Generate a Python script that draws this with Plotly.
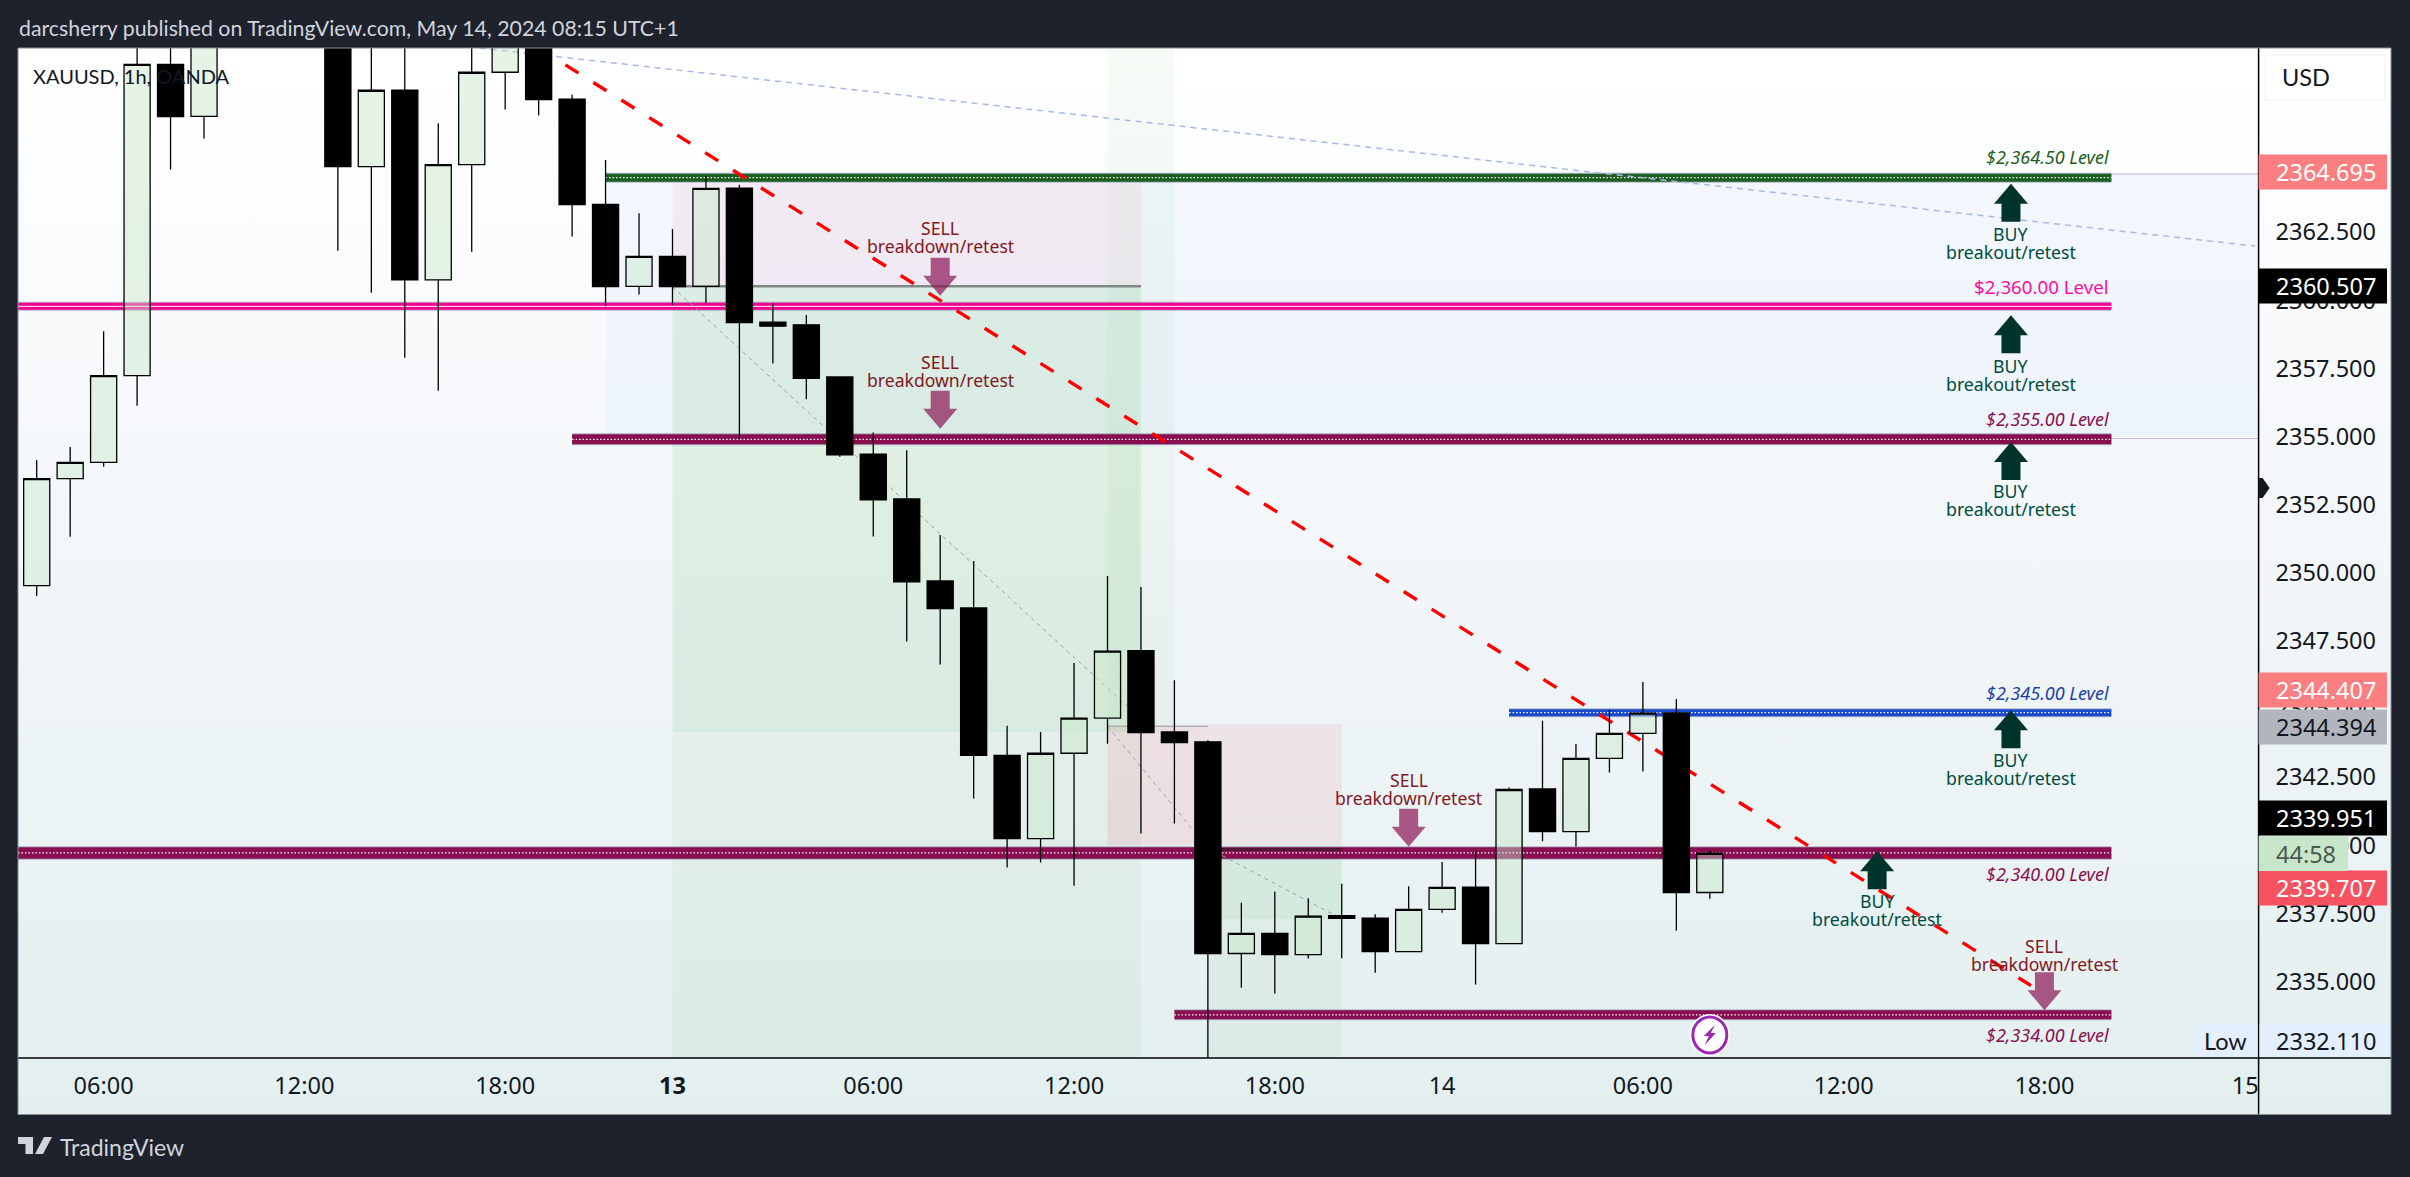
#!/usr/bin/env python3
"""XAUUSD 1h chart with breakout / breakdown levels, TradingView look."""

import plotly.graph_objects as go

W, H = 2410, 1177
FONT = "Noto Sans"
NARROW = "Lato"
BG = "#1e222d"

# bar index 0 is the 04:00 candle of May 12, the last one is 08:00 on May 14
opens = [2349.53, 2353.46, 2354.05, 2357.24, 2368.66, 2366.75, 2370.0, 2373.0, 2376.0, 2372.0,
         2364.91, 2367.71, 2360.75, 2364.98, 2368.37, 2371.0, 2367.38, 2363.52, 2360.51, 2361.61,
         2360.51, 2364.12, 2359.2, 2359.1, 2357.19, 2354.36, 2352.71, 2349.7, 2348.71, 2343.3,
         2340.25, 2343.38, 2344.67, 2347.14, 2344.16, 2343.8, 2336.03, 2336.77, 2335.99, 2337.42,
         2337.33, 2336.1, 2337.65, 2338.47, 2336.39, 2342.07, 2340.5, 2343.19, 2344.11, 2344.86,
         2338.27]
highs = [2354.14, 2354.62, 2358.87, 2370.0, 2370.0, 2371.0, 2374.0, 2377.0, 2378.0, 2373.0,
         2371.0, 2371.0, 2366.5, 2371.0, 2372.0, 2372.0, 2367.54, 2365.15, 2363.2, 2362.62,
         2364.56, 2364.24, 2359.9, 2359.46, 2357.2, 2355.15, 2354.5, 2351.39, 2350.43, 2344.39,
         2344.16, 2346.69, 2349.88, 2349.48, 2346.06, 2343.86, 2337.89, 2338.3, 2338.06, 2338.59,
         2337.47, 2338.5, 2339.39, 2339.78, 2342.12, 2344.57, 2343.72, 2344.97, 2345.99, 2345.37,
         2339.83]
lows = [2349.15, 2351.32, 2353.89, 2356.13, 2364.8, 2365.94, 2369.6, 2372.0, 2371.0, 2361.82,
        2360.28, 2357.89, 2356.68, 2361.78, 2367.0, 2366.78, 2362.34, 2359.78, 2360.21, 2359.83,
        2359.91, 2354.91, 2357.68, 2356.37, 2354.26, 2351.33, 2347.48, 2346.64, 2341.72, 2339.19,
        2339.37, 2338.52, 2343.73, 2340.43, 2340.8, 2332.11, 2334.77, 2334.56, 2335.85, 2335.86,
        2335.32, 2336.1, 2337.53, 2334.89, 2336.39, 2340.15, 2339.96, 2342.67, 2342.71, 2336.87,
        2338.04]
closes = [2353.46, 2354.05, 2357.24, 2368.66, 2366.74, 2370.0, 2373.0, 2376.0, 2372.0, 2364.91,
          2367.71, 2360.75, 2364.98, 2368.37, 2371.0, 2367.37, 2363.51, 2360.5, 2361.61, 2360.5,
          2364.11, 2359.18, 2359.05, 2357.14, 2354.33, 2352.68, 2349.67, 2348.69, 2343.3, 2340.25,
          2343.38, 2344.67, 2347.13, 2344.14, 2343.77, 2336.03, 2336.77, 2335.99, 2337.4, 2337.32,
          2336.1, 2337.65, 2338.46, 2336.39, 2342.05, 2340.5, 2343.19, 2344.11, 2344.85, 2338.27,
          2339.71]

time_ticks = [2, 8, 14, 19, 25, 31, 37, 42, 48, 54, 60, 66]
time_labels = ["06:00", "12:00", "18:00", "<b>13</b>", "06:00", "12:00", "18:00", "14",
               "06:00", "12:00", "18:00", "15"]
price_ticks = [2365, 2362.5, 2360, 2357.5, 2355, 2352.5, 2350, 2347.5, 2345, 2342.5, 2340, 2337.5, 2335]

# (price, first bar, colour, width)
levels = [
    (2364.5, 17, "#1b5e20", 8),
    (2359.78, -0.56, "#f50090", 7),
    (2354.9, 16, "#880e4f", 10),
    (2344.87, 44, "#1848cc", 7),
    (2339.72, -0.56, "#880e4f", 11.5),
    (2333.78, 34, "#880e4f", 9),
]
level_end = 62
level_texts = ["$2,364.50 Level", "$2,360.00 Level", "$2,355.00 Level",
               "$2,345.00 Level", "$2,340.00 Level", "$2,334.00 Level"]
level_text_prices = [2365.26, 2360.49, 2355.65, 2345.6, 2338.95, 2333.04]
level_text_colors = ["#1b5e20", "#ff0d9e", "#880e4f", "#1a3fa8", "#880e4f", "#880e4f"]

buy_bars = [59, 59, 59, 59, 55]
buy_tips = [2364.28, 2359.45, 2354.8, 2344.96, 2339.78]
buy_text_prices = [2362.11, 2357.26, 2352.67, 2342.8, 2337.63]
sell_bars = [27, 27, 41, 60]
sell_tips = [2360.17, 2355.29, 2339.95, 2333.95]
sell_text_prices = [2362.32, 2357.41, 2342.07, 2335.97]

# right hand price tags: text, centre y, fill, text colour
tags = [
    ("2364.695", 172, "#fb7f80", "#ffffff"),
    ("2344.394", 727, "#b2b5be", "#131722"),
    ("2344.407", 690, "#fb7f80", "#ffffff"),
    ("2360.507", 286, "#000000", "#ffffff"),
    ("2339.951", 818, "#000000", "#ffffff"),
    ("2339.707", 888, "#f7525f", "#ffffff"),
]

AXIS_X = 2258.6
FRAME_R = 2391
X_RANGE = [-0.559, 66.4]
Y_RANGE = [2332.196, 2369.26]


def fx(px):
    return px / W


def fy(py):
    return 1 - py / H


def box(x0, x1, y0, y1, fill):
    return dict(type="rect", xref="x2", yref="y2", x0=x0, x1=x1, y0=y0, y1=y1,
                fillcolor=fill, line_width=0, layer="below")


def seg(x0, x1, y0, y1, color, width, dash="solid"):
    return dict(type="line", xref="x2", yref="y2", x0=x0, x1=x1, y0=y0, y1=y1,
                line=dict(color=color, width=width, dash=dash), layer="below")


def paper_rect(x0, x1, y0, y1, fill, line=None):
    return dict(type="rect", xref="paper", yref="paper", x0=fx(x0), x1=fx(x1), y0=fy(y1), y1=fy(y0),
                fillcolor=fill, line=dict(color=line or fill, width=1 if line else 0), layer="above")


def arrow(bar, price, color, up):
    s = 1 if up else -1
    # tip is the anchor, head 20 px, shaft 18 px
    path = (f"M 0 0 L 17 {-20 * s} L 9.5 {-20 * s} L 9.5 {-38 * s} "
            f"L -9.5 {-38 * s} L -9.5 {-20 * s} L -17 {-20 * s} Z")
    return dict(type="path", xref="x2", yref="y2", xsizemode="pixel", ysizemode="pixel",
                xanchor=bar, yanchor=price, path=path, fillcolor=color, line_width=0, layer="above")


def badge_circle(radius, fill, line):
    return dict(type="circle", xref="x2", yref="y2", xsizemode="pixel", ysizemode="pixel", xanchor=50,
                yanchor=2333.04, x0=-radius, x1=radius, y0=-radius - 1, y1=radius + 1,
                fillcolor=fill, line=line, layer="above")


fig = go.Figure()

# frame background gradient lives on its own axes, the chart is drawn over it
fig.add_trace(go.Scatter(
    x=[0, 1, 1, 0, 0], y=[0, 0, 1, 1, 0], xaxis="x", yaxis="y", mode="lines", line_width=0,
    fill="toself", hoverinfo="skip", showlegend=False,
    fillgradient=dict(type="vertical", colorscale=[[0, "#e3efef"], [0.5, "#f2f6f9"], [1, "#ffffff"]]),
))

fig.add_trace(go.Candlestick(
    x=list(range(len(opens))), open=opens, high=highs, low=lows, close=closes,
    xaxis="x2", yaxis="y2", whiskerwidth=0, showlegend=False,
    increasing=dict(fillcolor="rgba(200,230,201,0.45)", line=dict(color="#000000", width=1.3)),
    decreasing=dict(fillcolor="#000000", line=dict(color="#000000", width=1.3)),
))

shapes = [
    box(17, X_RANGE[1], 2364.7, 2355.0, "rgba(33,120,243,0.035)"),
    # long position 13th
    box(19, 33, 2364.3, 2360.5, "rgba(233,30,80,0.06)"),
    box(19, 33, 2360.5, 2344.16, "rgba(76,175,80,0.13)"),
    box(19, 33, 2344.16, Y_RANGE[0], "rgba(76,175,80,0.06)"),
    box(32, 34, Y_RANGE[1], 2344.16, "rgba(76,175,80,0.05)"),
    # short position afternoon of the 13th
    box(32, 35, 2344.37, 2340.0, "rgba(239,60,70,0.11)"),
    box(35, 39, 2344.44, 2340.0, "rgba(233,30,60,0.07)"),
    box(35, 39, 2340.0, 2337.3, "rgba(76,175,80,0.13)"),
    box(35, 39, 2337.3, Y_RANGE[0], "rgba(76,175,80,0.06)"),
    seg(level_end, X_RANGE[1], 2364.63, 2364.63, "#c5bce0", 1),
    seg(level_end, X_RANGE[1], 2354.93, 2354.93, "#c5bce0", 1),
]
for price, start, color, width in levels:
    shapes.append(seg(start, level_end, price, price, "rgba(120,130,160,0.55)", width + 2))
    shapes.append(seg(start, level_end, price, price, color, width))
    if color == "#f50090":
        shapes.append(seg(start, level_end, price, price, "#ffffff", 1))
    else:
        shapes.append(seg(start, level_end, price, price, "#ffffff", 1.3, "1.5px,2px"))

shapes += [
    seg(19, 33, 2360.52, 2360.52, "#808a85", 2.5),
    seg(32, 35, 2344.37, 2344.37, "#aab0b4", 1.5),
    seg(35, 39, 2339.85, 2339.85, "rgba(30,30,30,0.6)", 2.5),
    seg(19, 33, 2360.49, 2344.64, "#9aa5a0", 1, "4px,4px"),
    seg(32, 35, 2344.37, 2339.9, "#9aa5a0", 1, "4px,4px"),
    seg(35, 39, 2339.9, 2337.3, "#9aa5a0", 1, "4px,4px"),
    seg(15.8, 59.6, 2368.64, 2334.85, "#ff0000", 3.4, "15.5px,17.5px"),
    seg(13.24, 66.3, 2369.26, 2361.99, "#a9b9e6", 1.5, "6px,5px"),
]

for bar, tip in zip(buy_bars, buy_tips):
    shapes.append(arrow(bar, tip, "#00332a", True))
for bar, tip in zip(sell_bars, sell_tips):
    shapes.append(arrow(bar, tip, "rgba(136,14,79,0.68)", False))

# alert badge
shapes += [
    badge_circle(20, "#ffffff", dict(width=0)),
    badge_circle(17, "#ffffff", dict(color="#9c27b0", width=3)),
    dict(type="path", xref="x2", yref="y2", xsizemode="pixel", ysizemode="pixel", xanchor=50, yanchor=2333.04,
         path="M 5 10 L -6 -1 L -1 -1 L -5 -10 L 6 2 L 1 2 Z", fillcolor="#9c27b0", line_width=0, layer="above"),
]

# axis spines
shapes += [
    dict(type="line", xref="paper", yref="paper", x0=fx(18), x1=fx(FRAME_R), y0=fy(1058), y1=fy(1058),
         line=dict(color="#000000", width=1.5), layer="above"),
    dict(type="line", xref="paper", yref="paper", x0=fx(AXIS_X), x1=fx(AXIS_X), y0=fy(48), y1=fy(1114),
         line=dict(color="#000000", width=1.5), layer="above"),
    dict(type="rect", xref="paper", yref="paper", x0=fx(18), x1=fx(FRAME_R), y0=fy(1114.5), y1=fy(48),
         line=dict(color="#8a8e99", width=1), fillcolor="rgba(0,0,0,0)", layer="above"),
    dict(type="path", xref="paper", yref="paper", xsizemode="pixel", ysizemode="pixel",
         xanchor=fx(AXIS_X), yanchor=fy(488), path="M 0 10 L 4 10 L 11 0 L 4 -10 L 0 -10 Z",
         fillcolor="#131722", line_width=0, layer="above"),
]

# price tags, drawn over the tick labels
for text, cy, fill, color in tags:
    shapes.append(paper_rect(AXIS_X, 2387, cy - 17.5, cy + 17.5, fill))
shapes.append(paper_rect(AXIS_X, 2348, 836, 871, "#c8e6c9"))
shapes.append(paper_rect(2193, 2257.5, 1024, 1057, "#e3effd"))
shapes.append(paper_rect(AXIS_X + 1, 2390, 1024, 1057, "#e3effd"))
shapes.append(paper_rect(2265.3, 2385, 55, 100, "#ffffff", "#eef0f4"))

# TradingView logo
shapes.append(dict(type="path", xref="paper", yref="paper", xsizemode="pixel", ysizemode="pixel",
                   xanchor=fx(18), yanchor=fy(1137), fillcolor="#d1d4dc", line_width=0, layer="above",
                   path="M 0 0 L 15 0 L 15 -17 L 7.5 -17 L 7.5 -7 L 0 -7 Z M 34 0 L 25 -17 L 17 -17 L 26 0 Z "
                        "M 18 -3.5 A 3.5 3.5 0 1 1 25 -3.5 A 3.5 3.5 0 1 1 18 -3.5 Z"))

annotations = []


def note(text, x, y, color, size=18, xref="x2", yref="y2", xanchor="center", italic=False, family=FONT, yshift=0):
    annotations.append(dict(
        text=f"<i>{text}</i>" if italic else text, x=x, y=y, xref=xref, yref=yref, xanchor=xanchor,
        yanchor="middle", showarrow=False, font=dict(family=family, size=size, color=color),
        borderpad=0, align="center", yshift=yshift,
    ))


for bar, price in zip(buy_bars, buy_text_prices):
    note("BUY", bar, price, "#004d40", 17.7, yshift=9.2)
    note("breakout/retest", bar, price, "#004d40", 17.7, yshift=-9.2)
for bar, price in zip(sell_bars, sell_text_prices):
    note("SELL", bar, price, "#801922", 17.6, yshift=9.2)
    note("breakdown/retest", bar, price, "#801922", 17.6, yshift=-9.2)
for text, price, color in zip(level_texts, level_text_prices, level_text_colors):
    if color == "#ff0d9e":
        note(text, 61.95, price, color, 18.7, xanchor="right")
    else:
        note(text, 61.95, price, color, 18, xanchor="right", italic=True)

TAG_X = 2325.7
for text, cy, fill, color in tags:
    note(text, fx(TAG_X), fy(cy), color, 23.5, "paper", "paper")
note("44:58", fx(2305.8), fy(853.5), "#4a5a4e", 23.5, "paper", "paper")
note("Low", fx(2225), fy(1041), "#131722", 23.5, "paper", "paper", family=NARROW)
note("2332.110", fx(TAG_X), fy(1041), "#131722", 23.5, "paper", "paper")
note("USD", fx(2281), fy(77), "#131722", 23.5, "paper", "paper", xanchor="left", family=NARROW)
note("XAUUSD, 1h, OANDA", fx(32), fy(76), "#131722", 20, "paper", "paper", xanchor="left", family=NARROW)
note("darcsherry published on TradingView.com, May 14, 2024 08:15 UTC+1", fx(18), fy(28), "#d1d4dc", 21.3,
     "paper", "paper", xanchor="left", family=NARROW)
note("TradingView", fx(58.5), fy(1147), "#d1d4dc", 23, "paper", "paper", xanchor="left", family=NARROW)

fig.update_layout(
    width=W, height=H, margin=dict(l=0, r=0, t=0, b=0), autosize=False,
    paper_bgcolor=BG, plot_bgcolor="rgba(0,0,0,0)", showlegend=False, boxgap=0.22, boxgroupgap=0,
    xaxis=dict(domain=[fx(18), fx(FRAME_R)], range=[0, 1], visible=False, fixedrange=True),
    yaxis=dict(domain=[fy(1114.5), fy(48)], range=[0, 1], visible=False, fixedrange=True),
    xaxis2=dict(domain=[fx(18), fx(AXIS_X)], range=X_RANGE, anchor="y2", tickmode="array",
                tickvals=time_ticks, ticktext=time_labels, showgrid=False, zeroline=False, ticks="",
                ticklabelstandoff=11, tickfont=dict(family=FONT, size=23.5, color="#131722"),
                rangeslider=dict(visible=False)),
    yaxis2=dict(domain=[fy(1058), fy(48)], range=Y_RANGE, anchor="x2", side="right", tickmode="array",
                tickvals=price_ticks, ticktext=[f"{p:.3f}" for p in price_ticks], showgrid=False,
                zeroline=False, ticks="", ticklabelstandoff=16,
                tickfont=dict(family=FONT, size=23.5, color="#131722")),
    shapes=shapes, annotations=annotations,
)

fig.write_html("out.html", config=dict(displayModeBar=False),
               post_script="document.body.style.margin='0';document.body.style.background='#1e222d';")
